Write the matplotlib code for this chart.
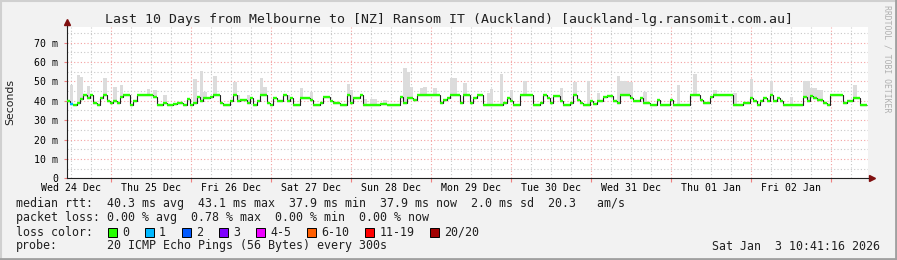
import numpy as np
import matplotlib
matplotlib.use('Agg')
import matplotlib.pyplot as plt
import matplotlib.dates as mdates
from matplotlib.ticker import FuncFormatter, MultipleLocator, NullFormatter
from matplotlib.patches import Rectangle
from matplotlib.lines import Line2D
from datetime import datetime, timedelta

title = 'Last 10 Days from Melbourne to [NZ] Ransom IT (Auckland) [auckland-lg.ransomit.com.au]'
start = datetime(2025, 12, 24, 10, 41, 16)

# median rtt (ms), one value per hour from start
median = [
    40, 38.5, 38, 39, 41, 43, 41.5, 43, 39, 38, 41.5, 43, 40, 39, 40, 39, 42, 43, 43, 38, 40, 43, 43, 43,
    43, 43, 42, 38, 38, 39, 38, 38, 38.5, 39, 39, 38, 41, 38, 39, 42, 40, 41.5, 41.5, 42, 43, 43, 39, 38,
    38, 40, 43, 40, 40.5, 40.5, 39, 41.5, 38, 40, 43, 43, 39, 38, 41.5, 40, 40, 43, 40, 41.5, 38, 38, 41.5, 41.5,
    41.5, 40.5, 38, 38, 39, 42, 42, 40, 39, 39, 38, 38, 43, 39, 41.5, 41.5, 43, 38, 38, 38, 38, 38, 38.5, 38.5,
    38, 38, 38, 38, 42, 39, 41.5, 41.5, 40.5, 43, 43, 43, 43, 43, 43, 43, 39, 40.5, 41.5, 43, 43, 43, 39, 43,
    43, 39, 41.5, 43, 43, 38, 38, 38, 38, 38, 38, 39, 41.5, 40, 38, 38, 43, 43, 43, 43, 38, 38, 39, 43,
    41.5, 39, 42.5, 42.5, 40, 38, 38, 39, 43, 40.5, 39, 38, 38, 40, 38.5, 40, 40, 42, 42.5, 42.5, 40, 39, 43, 43,
    43, 41.5, 40, 40, 41.5, 39, 39, 38, 38, 40.5, 38, 38, 38, 40.5, 38, 38, 38, 38, 38, 43, 43, 43, 40.5, 39,
    39, 42, 43, 43, 43, 43, 43, 43, 38, 38, 38, 39, 39, 41.5, 40, 38, 40, 41.5, 40, 43, 40, 41.5, 40, 38,
    38, 38, 38, 38, 38, 42, 40, 42.5, 41.5, 40.5, 40.5, 39, 38, 43, 43, 43, 43, 39, 40, 40, 41.5, 41.5, 38, 38,
]

# smoke (max rtt) where it shows above the median
smoke_hours = [1, 3, 4, 6, 11, 14, 16, 24, 26, 29, 38, 40, 41, 44, 50, 51, 54, 58, 59, 66, 70, 73,
               84, 85, 89, 91, 92, 95, 101, 102, 103, 106, 107, 110, 115, 116, 119, 126, 127, 130,
               133, 137, 148, 152, 156, 159, 165, 166, 167, 168, 169, 173, 183, 188, 194, 200, 205,
               211, 217, 221, 222, 223, 224, 225, 226, 236]
smoke_top = [48, 53.3, 52.4, 47.7, 51.6, 47, 48, 46, 45.6, 43, 51.3, 55.4, 44.7, 52.8, 49.9, 43, 43, 51.6, 47, 43, 46.5, 44.7,
             48.5, 45.6, 41, 41, 41, 40.5, 57, 55, 47, 46.5, 47, 46.5, 51.6, 51.6, 49, 44, 46, 53.9,
             45.6, 50, 46.5, 49.4, 50, 44.2, 52.8, 50, 50, 49.4, 49.4, 44.7, 48.2, 53.9, 45.6, 44.2, 51,
             50, 42, 50, 50, 46.5, 46.5, 45.6, 45.6, 48.2]

# packet loss (pings lost of 20) where not zero
loss_hours = [1]
loss_counts = [1]

loss_labels = ['0', '1', '2', '3', '4-5', '6-10', '11-19', '20/20']
loss_colors = ['#26ff00', '#00b8ff', '#0059ff', '#7e00ff', '#ee00ff', '#ff5e00', '#ff0000', '#a10000']
loss_bins = [0, 1, 2, 3, 5, 10, 19, 20]

stats_lines = [
    'median rtt:  40.3 ms avg  43.1 ms max  37.9 ms min  37.9 ms now  2.0 ms sd  20.3   am/s',
    'packet loss: 0.00 % avg  0.78 % max  0.00 % min  0.00 % now',
]
probe_text = '20 ICMP Echo Pings (56 Bytes) every 300s'
stamp_text = 'Sat Jan  3 10:41:16 2026'

MONO = 'DejaVu Sans Mono'
W, H = 897, 260

fig = plt.figure(figsize=(W / 100, H / 100), dpi=100)
fig.patch.set_facecolor('#f2f2f2')

ax = fig.add_axes([66.5 / W, 1 - 178.3 / H, 801 / W, 151.3 / H])
ax.set_facecolor('white')

median = np.array(median, dtype=float)
n = len(median)
edges = mdates.date2num([start + timedelta(hours=h) for h in range(n + 1)])
hour_w = edges[1] - edges[0]

# smoke
sh = np.array(smoke_hours)
st = np.array(smoke_top)
ax.bar(edges[sh], st - (median[sh] - 0.5), bottom=median[sh] - 0.5, width=hour_w,
       align='edge', color='#dcdcdc', linewidth=0, zorder=2)

# median line: thin dark steps + loss coloured levels
ax.stairs(median, edges, color='#202020', lw=0.8, baseline=None, zorder=3)
loss = np.zeros(n, dtype=int)
loss[loss_hours] = loss_counts
seg_colors = [loss_colors[int(np.searchsorted(loss_bins, l))] for l in loss]
ax.hlines(median, edges[:-1], edges[1:], colors=seg_colors, lw=1.7, zorder=4)

ax.set_xlim(edges[0], edges[0] + 10.0 + 0.3 / 24)
ax.set_ylim(0, 78)

ax.xaxis.set_major_locator(mdates.DayLocator())
ax.xaxis.set_major_formatter(NullFormatter())
ax.xaxis.set_minor_locator(mdates.HourLocator(byhour=[0, 6, 12, 18]))


def day_label(x, pos):
    d = mdates.num2date(x)
    return d.strftime('%a %d %b') if d.hour == 12 else ''


ax.xaxis.set_minor_formatter(FuncFormatter(day_label))
ax.yaxis.set_major_locator(MultipleLocator(10))
ax.yaxis.set_minor_locator(MultipleLocator(5))
ax.yaxis.set_major_formatter(FuncFormatter(lambda v, p: '0' if v == 0 else '%d m' % v))

ax.set_axisbelow(True)
ax.grid(which='major', color='#f4a0a0', linestyle=(0, (1, 2)), lw=0.8)
ax.grid(which='minor', color='#c8c8c8', linestyle=(0, (1, 2)), lw=0.8)

ax.tick_params(axis='x', which='major', length=3, color='#f08080', width=0.8)
ax.tick_params(axis='x', which='minor', length=0, pad=3.5, labelsize=7.1)
ax.tick_params(axis='y', which='major', length=2, color='#f08080', width=0.8, pad=4, labelsize=7.1)
ax.tick_params(axis='y', which='minor', length=0)
for lab in ax.get_xticklabels(which='minor') + ax.get_yticklabels():
    lab.set_family(MONO)

for s in ['top', 'right']:
    ax.spines[s].set_visible(False)
for s in ['left', 'bottom']:
    ax.spines[s].set_color('#202020')
    ax.spines[s].set_linewidth(0.8)

# axis arrows
ax.add_line(Line2D([0, 0], [1, 1.02], transform=ax.transAxes, color='#202020', lw=0.8, clip_on=False))
ax.plot([0], [1.035], marker='^', ms=4, color='#801010', transform=ax.transAxes, clip_on=False)
ax.plot([1.006], [0], marker='>', ms=4, color='#801010', transform=ax.transAxes, clip_on=False)

fig.text(0.5, 1 - 19 / H, title, ha='center', va='center', family=MONO, size=9.5, color='#202020')
fig.text(10.5 / W, 1 - 102.5 / H, 'Seconds', ha='center', va='center', rotation=90,
         family='DejaVu Sans', size=7.8, color='#202020')
fig.text(887 / W, 1 - 5 / H, 'RRDTOOL / TOBI OETIKER', ha='center', va='top', rotation=270,
         family=MONO, size=5.9, color='#b0b0b0')

# legend block
fs = 8.4
cw = 0.602 * fs * 100 / 72
for i, line in enumerate(stats_lines):
    fig.text(16 / W, 1 - (204 + 14 * i) / H, line, ha='left', va='center', family=MONO, size=fs, color='#202020')
y_loss = 232
fig.text(16 / W, 1 - y_loss / H, 'loss color:', ha='left', va='center', family=MONO, size=fs, color='#202020')
x = 108
for lab, col in zip(loss_labels, loss_colors):
    fig.patches.append(Rectangle(((x) / W, 1 - (y_loss + 4.5) / H), 9 / W, 9 / H, transform=fig.transFigure,
                                 facecolor=col, edgecolor='black', lw=0.7))
    fig.text((x + 14) / W, 1 - y_loss / H, lab, ha='left', va='center', family=MONO, size=fs, color='#202020')
    x = x + 14 + len(lab) * cw + 16
fig.text(16 / W, 1 - 246 / H, 'probe:', ha='left', va='center', family=MONO, size=fs, color='#202020')
fig.text(107 / W, 1 - 246 / H, probe_text, ha='left', va='center', family=MONO, size=fs, color='#202020')
fig.text(880 / W, 1 - 246 / H, stamp_text, ha='right', va='center', family=MONO, size=fs, color='#202020')

# frame shading
fig.add_artist(Line2D([0, 1], [1 - 1 / H, 1 - 1 / H], transform=fig.transFigure, color='#d0d0d0', lw=1.5))
fig.add_artist(Line2D([1 / W, 1 / W], [0, 1], transform=fig.transFigure, color='#d0d0d0', lw=1.5))
fig.add_artist(Line2D([0, 1], [1.5 / H, 1.5 / H], transform=fig.transFigure, color='#a0a0a0', lw=2))
fig.add_artist(Line2D([1 - 1.5 / W, 1 - 1.5 / W], [0, 1], transform=fig.transFigure, color='#a0a0a0', lw=2))

fig.savefig('out.png', dpi=100, facecolor=fig.get_facecolor())
